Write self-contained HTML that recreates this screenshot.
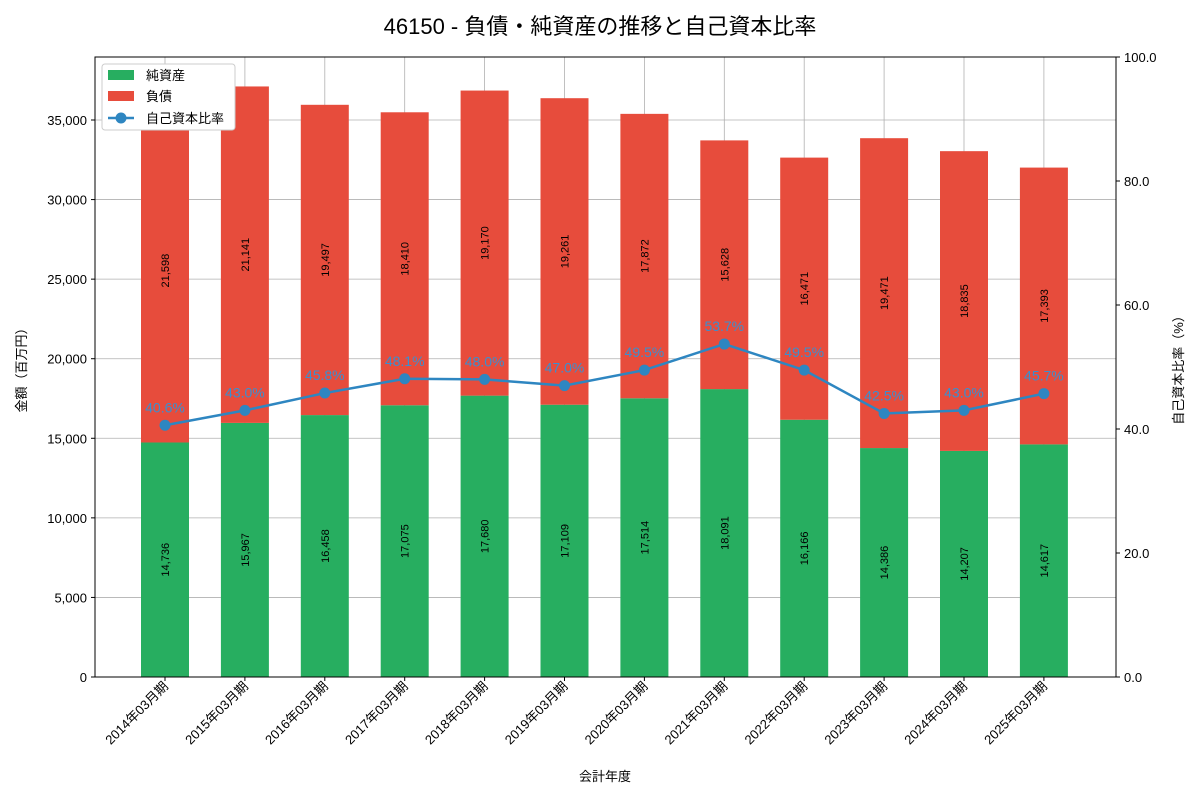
<!DOCTYPE html>
<html><head><meta charset="utf-8"><style>
body{margin:0;background:#fff;}
svg text{font-family:"Liberation Sans","Noto Sans CJK JP",sans-serif;}
</style></head><body>
<svg id="chart" width="1200" height="800" xmlns="http://www.w3.org/2000/svg">
<text x="600" y="34" font-size="22" text-anchor="middle">46150 - 負債・純資産の推移と自己資本比率</text>
<g id="grid"></g><g id="bars"></g><g id="line"></g><g id="axes"></g>
<text transform="translate(26,367) rotate(-90)" font-size="13" text-anchor="middle">金額（百万円）</text>
<text transform="translate(1183,367) rotate(-90)" font-size="13" text-anchor="middle">自己資本比率（%）</text>
<text x="605" y="781" font-size="13" text-anchor="middle">会計年度</text>
<g>
<rect x="102" y="64" width="133" height="66" fill="#fff" stroke="#ccc" rx="3"/>
<rect x="108" y="70" width="26" height="10" fill="#27ae60"/>
<text x="146" y="80" font-size="13">純資産</text>
<rect x="108" y="91" width="26" height="10" fill="#e74c3c"/>
<text x="146" y="101" font-size="13">負債</text>
<line x1="108" y1="118" x2="134" y2="118" stroke="#2e86c1" stroke-width="2.5"/>
<circle cx="121" cy="118" r="5.5" fill="#2e86c1"/>
<text x="146" y="123" font-size="13">自己資本比率</text>
</g>
</svg>
<script>
const categories=["2014年03月期","2015年03月期","2016年03月期","2017年03月期","2018年03月期","2019年03月期","2020年03月期","2021年03月期","2022年03月期","2023年03月期","2024年03月期","2025年03月期"];
const equity=[14736,15967,16458,17075,17680,17109,17514,18091,16166,14386,14207,14617];
const liabilities=[21598,21141,19497,18410,19170,19261,17872,15628,16471,19471,18835,17393];
const ratio=[40.6,43.0,45.8,48.1,48.0,47.0,49.5,53.7,49.5,42.5,43.0,45.7];
const leftTicks=[0,5000,10000,15000,20000,25000,30000,35000];
const rightTicks=[0,20,40,60,80,100];
const NS="http://www.w3.org/2000/svg";
const L=95,R=1116,T=57,B=677;
const yL=v=>B-v/35000*557;
const yR=v=>B-v/100*(B-T);
const xC=i=>165+i*79.9;
const fmt=n=>n.toLocaleString("en-US");
function mk(p,tag,a){const e=document.createElementNS(NS,tag);for(const k in a)e.setAttribute(k,a[k]);document.getElementById(p).appendChild(e);return e;}
leftTicks.forEach(t=>{
 const g=mk("grid","line",{x1:L,x2:R,y1:yL(t),y2:yL(t),stroke:"#b0b0b0","stroke-width":0.8});
 
 
 const tx=mk("axes","text",{x:L-8,y:yL(t)+5,"font-size":13,"text-anchor":"end"});tx.textContent=fmt(t);
 
 
 mk("axes","line",{x1:L-4,x2:L,y1:yL(t),y2:yL(t),stroke:"#000"});
});
rightTicks.forEach(t=>{
 const tx=mk("axes","text",{x:R+8,y:yR(t)+5,"font-size":13});tx.textContent=t.toFixed(1);
 
 
 mk("axes","line",{x1:R,x2:R+4,y1:yR(t),y2:yR(t),stroke:"#000"});
});
categories.forEach((c,i)=>{
 const x=xC(i);
 const g=mk("grid","line",{x1:x,x2:x,y1:T,y2:B,stroke:"#b0b0b0","stroke-width":0.8});
 
 
 const e=equity[i],l=liabilities[i];
 const b1=mk("bars","rect",{x:x-24,width:48,y:yL(e),height:B-yL(e),fill:"#27ae60"});
 
 
 const b2=mk("bars","rect",{x:x-24,width:48,y:yL(e+l),height:yL(e)-yL(e+l),fill:"#e74c3c"});
 
 
 [[e/2,e],[e+l/2,l]].forEach(([m,v])=>{
  const t=mk("bars","text",{transform:`translate(${x+4},${yL(m)}) rotate(-90)`,"font-size":11,"text-anchor":"middle"});t.textContent=fmt(v);
  
  
 });
 mk("axes","line",{x1:x,x2:x,y1:B,y2:B+4,stroke:"#000"});
 const tl=mk("axes","text",{transform:`translate(${x+4},${B+10}) rotate(-45)`,"font-size":13,"text-anchor":"end"});tl.textContent=c;
 
 
});
const pl=mk("line","polyline",{points:ratio.map((r,i)=>xC(i)+","+yR(r)).join(" "),fill:"none",stroke:"#2e86c1","stroke-width":2.5});


ratio.forEach((r,i)=>{
 const c=mk("line","circle",{cx:xC(i),cy:yR(r),r:5.5,fill:"#2e86c1"});
 
 
 const t=mk("line","text",{x:xC(i),y:yR(r)-13,"font-size":14,fill:"#3a8fd0","text-anchor":"middle"});t.textContent=r.toFixed(1)+"%";
 
 
});
mk("axes","rect",{x:L,y:T,width:R-L,height:B-T,fill:"none",stroke:"#000","stroke-width":1});
</script>
</body></html>
